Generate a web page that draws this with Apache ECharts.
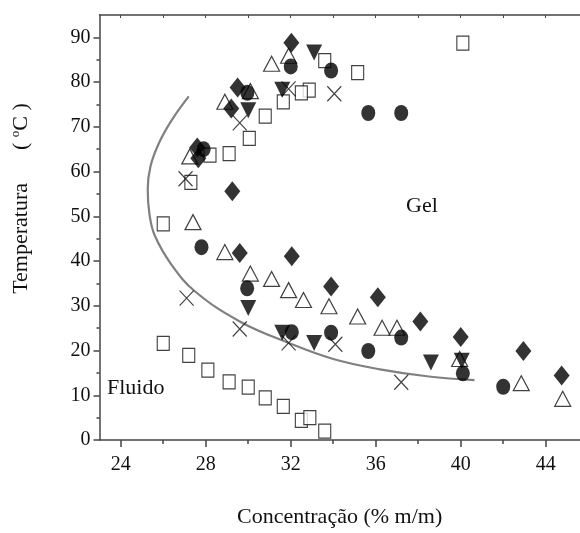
<!DOCTYPE html>
<html>
<head>
<meta charset="utf-8">
<script src="https://cdn.jsdelivr.net/npm/echarts@6/dist/echarts.min.js"></script>
<style>html,body{margin:0;padding:0;background:#fff}#c{width:580px;height:533px}</style>
</head>
<body>
<div id="c"></div>
<script>
// ---- data ----
const squares = [[40.1,88.7],[35.15,82.1],[33.6,84.8],[32.87,78.2],[32.5,77.6],[31.65,75.6],[30.8,72.4],[30.05,67.4],[29.1,64.0],[28.2,63.7],[27.3,57.6],[26.0,48.3],[26.0,21.6],[27.2,18.9],[28.1,15.6],[29.1,13.0],[30.0,11.8],[30.8,9.4],[31.65,7.5],[32.5,4.4],[32.9,5.0],[33.6,2.0]];
const trianglesOpen = [[31.9,85.9],[31.1,84.1],[30.1,78.0],[28.9,75.6],[27.25,63.4],[27.4,48.7],[28.9,42.0],[30.1,37.2],[31.1,36.0],[31.9,33.5],[32.6,31.3],[33.8,29.9],[35.15,27.6],[36.3,25.1],[37.0,25.1],[39.95,18.1],[42.85,12.7],[44.8,9.2]];
const crosses = [[34.05,77.4],[31.9,78.5],[29.6,70.9],[27.05,58.4],[27.1,31.7],[29.6,24.8],[31.9,21.7],[34.1,21.4],[37.2,12.9]];
const circles = [[32.0,83.5],[33.9,82.6],[29.96,77.6],[27.9,65.0],[35.65,73.1],[37.2,73.1],[27.8,43.1],[29.95,33.9],[32.05,24.1],[33.9,24.0],[35.65,19.9],[37.2,22.9],[40.1,14.9],[42.0,11.9]];
const diamonds = [[32.03,88.8],[29.5,78.8],[29.2,74.1],[27.6,65.4],[27.65,63.0],[29.25,55.6],[29.6,41.8],[32.05,41.1],[33.9,34.3],[36.1,31.9],[38.1,26.5],[40.0,23.0],[42.95,19.9],[44.75,14.4]];
const downTriangles = [[33.1,86.6],[31.6,78.3],[30.0,73.7],[30.0,29.5],[31.6,24.0],[33.1,21.7],[38.6,17.3],[40.05,17.7]];
const boundaryCurve = [[27.2,76.8],[26.4,71.5],[25.8,66.4],[25.4,61.2],[25.27,56.0],[25.35,50.5],[25.6,45.7],[26.4,39.1],[27.5,33.2],[29.6,26.5],[31.9,21.7],[34.0,18.1],[36.2,15.8],[38.5,14.2],[40.65,13.4]];

const xMajorTicks = [24,28,32,36,40,44];
const xMinorTicks = [26,30,34,38,42];
const xTopTicks = [24,26,28,30,32,34,36,38,40,42,44];
const yMajorTicks = [0,10,20,30,40,50,60,70,80,90];
const yMinorTicks = [5,15,25,35,45,55,65,75,85];

const FONT = 'Liberation Serif';
const AX = '#444';

const chart = echarts.init(document.getElementById('c'), null, {renderer:'canvas'});
const xBase = {type:'value', min:23, max:45.6, splitLine:{show:false}, gridIndex:0};
const yBase = {type:'value', min:0, max:95, splitLine:{show:false}, gridIndex:0};

chart.setOption({
  animation:false,
  backgroundColor:'#fff',
  grid:{left:99.5, right:0.3, top:15, bottom:89.7},
  xAxis:[
    Object.assign({}, xBase, {position:'bottom',
      axisLine:{show:true, lineStyle:{color:AX, width:1.5}},
      axisTick:{show:true, customValues:xMajorTicks, length:7, lineStyle:{color:AX, width:1.5}},
      axisLabel:{show:true, customValues:xMajorTicks, margin:15, fontFamily:FONT, fontSize:20, color:'#111'},
      name:'Concentração (% m/m)', nameLocation:'middle', nameGap:66,
      nameTextStyle:{fontFamily:FONT, fontSize:22, color:'#111'}
    }),
    Object.assign({}, xBase, {position:'bottom',
      axisLine:{show:false},
      axisTick:{show:true, customValues:xMinorTicks, length:4, lineStyle:{color:AX, width:1.5}},
      axisLabel:{show:false}
    }),
    Object.assign({}, xBase, {position:'top',
      axisLine:{show:true, lineStyle:{color:AX, width:1.5}},
      axisTick:{show:true, inside:true, customValues:xTopTicks, length:3, lineStyle:{color:AX, width:1}},
      axisLabel:{show:false}
    })
  ],
  yAxis:[
    Object.assign({}, yBase, {position:'left',
      axisLine:{show:true, lineStyle:{color:AX, width:1.5}},
      axisTick:{show:true, customValues:yMajorTicks, length:6, lineStyle:{color:AX, width:1.5}},
      axisLabel:{show:true, customValues:yMajorTicks, margin:9, fontFamily:FONT, fontSize:20, color:'#111'},
      name:'{t|Temperatura}{t|      ( }{s|o}{t|C )}', nameLocation:'middle', nameGap:66, nameRotate:90,
      nameTextStyle:{fontFamily:FONT, fontSize:22, color:'#111', padding:[0,0,0,58],
        rich:{t:{fontFamily:FONT, fontSize:22, color:'#111'}, s:{fontFamily:FONT, fontSize:13, color:'#111', padding:[0,0,11,0]}}}
    }),
    Object.assign({}, yBase, {position:'left',
      axisLine:{show:false},
      axisTick:{show:true, customValues:yMinorTicks, length:3, lineStyle:{color:AX, width:1.5}},
      axisLabel:{show:false}
    })
  ],
  graphic:[
    {type:'text', left:406, top:195, style:{text:'Gel', font:'22px "Liberation Serif"', fill:'#111'}},
    {type:'text', left:107, top:377, style:{text:'Fluido', font:'22px "Liberation Serif"', fill:'#111'}}
  ],
  series:[
    {type:'line', data:boundaryCurve, smooth:0.4, showSymbol:false, symbol:'none',
     lineStyle:{color:'#808080', width:2.2}, z:1, silent:true},
    {type:'scatter', data:squares, symbol:'rect', symbolSize:[12,14],
     itemStyle:{color:'#fff', borderColor:'#111', borderWidth:1.2}, z:2},
    {type:'scatter', data:trianglesOpen, symbol:'triangle', symbolSize:[16,15],
     itemStyle:{color:'#fff', borderColor:'#111', borderWidth:1.2}, z:3},
    {type:'scatter', data:crosses, symbol:'path://M0,0L10,10M10,0L0,10', symbolSize:[14,15],
     itemStyle:{color:'rgba(0,0,0,0)', borderColor:'#111', borderWidth:1.2}, z:4},
    {type:'scatter', data:circles, symbol:'circle', symbolSize:[14,16],
     itemStyle:{color:'#000'}, z:5},
    {type:'scatter', data:diamonds, symbol:'diamond', symbolSize:[16,20],
     itemStyle:{color:'#000'}, z:6},
    {type:'scatter', data:downTriangles, symbol:'triangle', symbolRotate:180, symbolSize:[16,16],
     itemStyle:{color:'#000'}, z:7}
  ]
});
</script>
</body>
</html>
